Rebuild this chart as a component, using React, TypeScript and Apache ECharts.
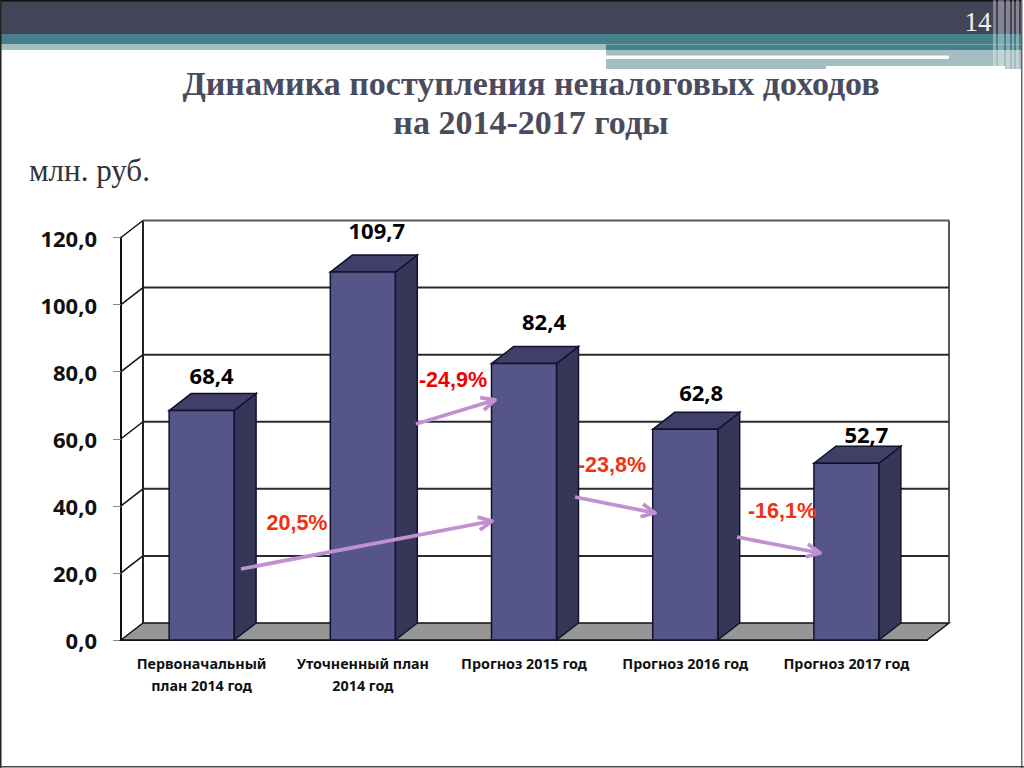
import React, { useEffect, useRef } from "react";
import * as echarts from "echarts";

const categories = ["Первоначальный\nплан 2014 год", "Уточненный план\n2014 год", "Прогноз 2015 год", "Прогноз 2016 год", "Прогноз 2017 год"];
const values = [68.4, 109.7, 82.4, 62.8, 52.7];
const ticks = [0, 20, 40, 60, 80, 100, 120];
const pctLabels = ["20,5%", "-24,9%", "-23,8%", "-16,1%"];
const pctColors = ["#f03010", "#f00000", "#ee3311", "#f03010"];
const pctPos = [[297, 523], [453, 380], [612, 465], [782, 511]];
const arrows = [[241, 569, 492, 521], [416, 424, 495, 400], [575, 497, 655, 513], [737, 537, 820, 553]];
const labelNudge = [[10, -19], [14, -25], [20, -26], [16, -20], [20, -12]];

const DX = 22;
const DY = -17;

function fmt(v: number) {
  return v.toFixed(1).replace(".", ",");
}

function renderWall(params: any, api: any) {
  const cs = params.coordSys;
  const y = api.coord([0, api.value(1)])[1];
  const x0 = cs.x;
  const x1 = cs.x + cs.width;
  const children: any[] = [];
  if (params.dataIndex === 0) {
    children.push({
      type: "polygon",
      shape: { points: [[x0, y], [x0 + DX, y + DY], [x1 + DX, y + DY], [x1, y]] },
      style: { fill: "#969696", stroke: "#111", lineWidth: 1.5 },
    });
    children.push({
      type: "line",
      shape: { x1: x0 + DX, y1: y + DY, x2: x0 + DX, y2: cs.y + DY },
      style: { stroke: "#222", lineWidth: 2 },
    });
    children.push({
      type: "line",
      shape: { x1: x1 + DX, y1: y + DY, x2: x1 + DX, y2: cs.y + DY },
      style: { stroke: "#555", lineWidth: 2 },
    });
  } else {
    children.push({
      type: "line",
      shape: { x1: x0 + DX, y1: y + DY, x2: x1 + DX, y2: y + DY },
      style: { stroke: api.value(1) === 120 ? "#555" : "#2a2a2a", lineWidth: 2 },
    });
    children.push({
      type: "line",
      shape: { x1: x0, y1: y, x2: x0 + DX, y2: y + DY },
      style: { stroke: "#111", lineWidth: 1.5 },
    });
  }
  return { type: "group", children };
}

function renderBar(params: any, api: any) {
  const idx = api.value(0);
  const val = api.value(1);
  const top = api.coord([idx, val]);
  const base = api.coord([idx, 0]);
  const w = api.size([1, 0])[0] * 0.403;
  const l = top[0] - w / 2;
  const r = top[0] + w / 2;
  const stroke = "#10122e";
  const nudge = labelNudge[params.dataIndex];
  return {
    type: "group",
    children: [
      {
        type: "polygon",
        shape: { points: [[r, top[1]], [r + DX, top[1] + DY], [r + DX, base[1] + DY], [r, base[1]]] },
        style: { fill: "#363758", stroke, lineWidth: 1.5 },
      },
      {
        type: "polygon",
        shape: { points: [[l, top[1]], [l + DX, top[1] + DY], [r + DX, top[1] + DY], [r, top[1]]] },
        style: { fill: "#3f3f68", stroke, lineWidth: 1.5 },
      },
      {
        type: "rect",
        shape: { x: l, y: top[1], width: w, height: base[1] - top[1] },
        style: { fill: "#55558a", stroke, lineWidth: 1.5 },
      },
      {
        type: "text",
        x: top[0] + nudge[0],
        y: top[1] + DY + nudge[1],
        style: {
          text: fmt(val),
          fill: "#000",
          font: 'bold 22px "Noto Sans"',
          align: "center",
          verticalAlign: "middle",
        },
      },
    ],
  };
}

function arrowElements(a: number[]) {
  const [x1, y1, x2, y2] = a;
  const ang = Math.atan2(y2 - y1, x2 - x1);
  const len = 15;
  const spread = 0.45;
  const b1 = [x2 - len * Math.cos(ang - spread), y2 - len * Math.sin(ang - spread)];
  const b2 = [x2 - len * Math.cos(ang + spread), y2 - len * Math.sin(ang + spread)];
  const style = { stroke: "#c091d0", lineWidth: 3.8, fill: "none", lineJoin: "round" };
  return [
    { type: "line", z: 50, shape: { x1, y1, x2, y2 }, style },
    { type: "polyline", z: 50, shape: { points: [b1, [x2, y2], b2] }, style },
  ];
}

function rect(x: number, y: number, width: number, height: number, fill: string) {
  return { type: "rect", z: 40, shape: { x, y, width, height }, style: { fill } };
}

const headerRects = [
  [0, 0, 1021, 34, "#434457"],
  [0, 0, 1021, 1.5, "#111"],
  [0, 34, 1021, 10.5, "#46808a"],
  [0, 44.5, 606, 5.5, "#a3bdc1"],
  [606, 44.5, 415, 6, "#46808a"],
  [606, 50.5, 415, 15.5, "#a3bdc1"],
  [606, 66, 220, 3, "#a3bdc1"],
  [1005, 66, 16, 3, "#a3bdc1"],
  [606, 55.5, 343, 3.5, "#ffffff"],
];

const stripeRects = [
  [993, 3],
  [998, 6],
  [1006, 4],
  [1012, 2],
  [1016, 3],
];

export default function App() {
  const ref = useRef<HTMLDivElement>(null);
  useEffect(() => {
    document.body.style.margin = "0";
    const chart = echarts.init(ref.current!, undefined, { renderer: "svg" });
    chart.setOption({
      animation: false,
      backgroundColor: "#ffffff",
      title: {
        text: "Динамика поступления неналоговых доходов\nна 2014-2017 годы",
        left: 526,
        top: 59,
        textAlign: "center",
        textStyle: { fontFamily: "Liberation Serif", fontWeight: "bold", fontSize: 34, lineHeight: 39, color: "#4a4c5e" },
      },
      grid: { left: 121, top: 237.5, width: 806, height: 402.5 },
      xAxis: {
        type: "category",
        data: categories,
        axisLine: { lineStyle: { color: "#111", width: 2 } },
        axisTick: { length: 6, lineStyle: { color: "#777", width: 1 } },
        axisLabel: { fontFamily: "Noto Sans", fontWeight: "bold", fontSize: 14.3, lineHeight: 22, color: "#111", margin: 12, interval: 0 },
      },
      yAxis: {
        type: "value",
        min: 0,
        max: 120,
        interval: 20,
        splitLine: { show: false },
        axisLine: { show: true, lineStyle: { color: "#111", width: 2 } },
        axisTick: { show: true, length: 8, lineStyle: { color: "#888", width: 1 } },
        axisLabel: { fontFamily: "Noto Sans", fontWeight: "bold", fontSize: 22, color: "#111", margin: 24, formatter: (v: number) => fmt(v) },
      },
      graphic: [
        ...headerRects.map((r) => rect(r[0] as number, r[1] as number, r[2] as number, r[3] as number, r[4] as string)),
        ...stripeRects.map((s) => ({
          type: "rect", z: 41, shape: { x: s[0], y: 0, width: s[1], height: 69 }, style: { fill: "rgba(255,255,255,0.35)" },
        })),
        { type: "rect", z: 41, shape: { x: 1021, y: 0, width: 1.5, height: 768 }, style: { fill: "#666" } },
        { type: "rect", z: 41, shape: { x: 0, y: 0, width: 1.5, height: 768 }, style: { fill: "#222" } },
        { type: "rect", z: 41, shape: { x: 0, y: 766, width: 1024, height: 1.5 }, style: { fill: "#444" } },
        {
          type: "text", z: 42, x: 978, y: 22,
          style: { text: "14", fill: "#f2f2f2", font: '27px "Liberation Serif"', align: "center", verticalAlign: "middle" },
        },
        {
          type: "text", z: 42, x: 29, y: 170,
          style: { text: "млн. руб.", fill: "#333", font: '31px "Liberation Serif"', align: "left", verticalAlign: "middle" },
        },
        ...arrows.flatMap(arrowElements),
        ...pctLabels.map((t, i) => ({
          type: "text", z: 51, x: pctPos[i][0], y: pctPos[i][1],
          style: { text: t, fill: pctColors[i], font: 'bold 21.5px "Liberation Sans"', align: "center", verticalAlign: "middle" },
        })),
      ],
      series: [
        {
          type: "custom",
          z: 1,
          silent: true,
          clip: false,
          renderItem: renderWall,
          data: ticks.map((t) => [0, t]),
          encode: { x: 0, y: 1 },
        },
        {
          type: "custom",
          z: 3,
          clip: false,
          renderItem: renderBar,
          data: values.map((v, i) => [i, v]),
          encode: { x: 0, y: 1 },
        },
      ],
    });
    return () => chart.dispose();
  }, []);
  return <div ref={ref} style={{ position: "absolute", left: 0, top: 0, width: 1024, height: 768 }} />;
}
